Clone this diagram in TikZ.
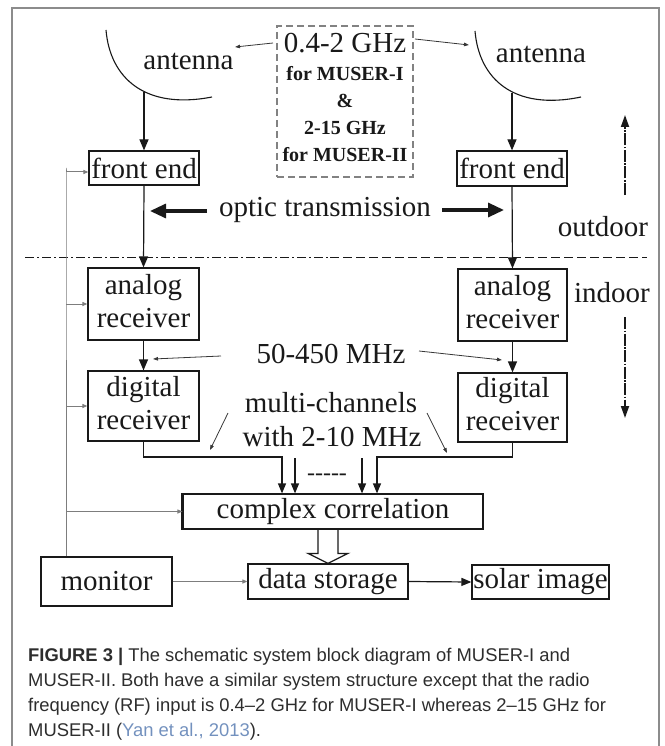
\documentclass[tikz,border=0pt]{standalone}
\usepackage{fontspec}
\setmainfont{Liberation Serif}
\newfontfamily\capfont{Liberation Sans}
\usetikzlibrary{arrows.meta,calc}
\definecolor{boxc}{RGB}{25,25,25}
\definecolor{framec}{RGB}{140,140,140}
\definecolor{ctlc}{RGB}{125,125,125}
\definecolor{annc}{RGB}{55,55,55}
\definecolor{dashc}{RGB}{130,130,130}
\definecolor{capc}{RGB}{45,45,45}
\definecolor{citec}{RGB}{115,145,190}
\newcommand\mydepth{\rule[-7pt]{0pt}{7pt}}
\begin{document}
\begin{tikzpicture}[x=1pt,y=-1pt,
  box/.style={draw=boxc,line width=1.2pt,inner sep=0pt,align=center,font=\fontsize{29}{33}\selectfont,text=boxc},
  lbl/.style={inner sep=0pt,anchor=base,font=\fontsize{29}{33}\selectfont,text=boxc},
  rf/.style={inner sep=0pt,anchor=base,font=\fontsize{20}{22}\selectfont\bfseries,text=boxc},
  sig/.style={line width=1.2pt,draw=boxc,-{Triangle[length=11pt,width=9pt]}},
  sigS/.style={line width=1.2pt,draw=boxc,-{Triangle[length=10pt,width=8pt]}},
  ann/.style={line width=0.8pt,draw=annc,-{Triangle[length=5pt,width=3.5pt]}},
  ctl/.style={line width=1pt,draw=ctlc},
  ctlA/.style={ctl,-{Triangle[length=5pt,width=4pt]}},
  optic/.style={line width=3.2pt,draw=boxc,-{Triangle[length=16pt,width=14pt]}},
  updown/.style={line width=1.8pt,draw=boxc,dash pattern=on 12pt off 1.5pt on 1.5pt off 1.5pt,-{Triangle[length=12pt,width=8pt]}},
  dish/.style={line width=1.1pt,draw=boxc},
  capline/.style={anchor=base west,inner sep=0pt,font=\capfont\fontsize{18.4}{20}\selectfont,text=capc}
]
\useasboundingbox (0,0) rectangle (664,746);
% frame
\draw[framec,line width=1.6pt] (12,746) -- (12,8) -- (659,8) -- (659,746);

% antennas
\draw[dish] (106,30) .. controls (110,78) and (145,110) .. (212,97);
\draw[dish] (475,31) .. controls (479,79) and (514,111) .. (581,97);
\node[lbl] (antL) at (188.5,70) {antenna};
\node[lbl] (antR) at (541,63) {antenna};
\coordinate (dishL) at (144,92);
\coordinate (dishR) at (512,93);

% RF box
\node[draw=dashc,line width=1.2pt,dash pattern=on 7pt off 4pt,minimum width=136pt,minimum height=151pt,inner sep=0pt] (rfbox) at (345,101.5) {};
\node[lbl] (rf1) at (345,53) {0.4-2 GHz};
\node[rf] (rf2) at (345,81) {for MUSER-I};
\node[rf] (rf3) at (345,108) {\&};
\node[rf] (rf4) at (345,135) {2-15 GHz};
\node[rf] (rf5) at (345,162) {for MUSER-II};
\coordinate (aL0) at (273,43); \coordinate (aL1) at (235,47);
\coordinate (aR0) at (415,39); \coordinate (aR1) at (469,45);
\draw[ann] (aL0) -- (aL1);
\draw[ann] (aR0) -- (aR1);

% boxes
\node[box,minimum width=110pt,minimum height=34pt] (fe1) at (144,168) {front end};
\node[box,minimum width=110pt,minimum height=35pt] (fe2) at (512,168.5) {front end};
\node[box,minimum width=111pt,minimum height=72pt] (ar1) at (143.5,304) {analog\\receiver\mydepth};
\node[box,minimum width=109pt,minimum height=72pt] (ar2) at (512.5,305) {analog\\receiver\mydepth};
\node[box,minimum width=111pt,minimum height=70pt] (dr1) at (143.5,406) {digital\\receiver\mydepth};
\node[box,minimum width=109pt,minimum height=69pt] (dr2) at (512.5,407.5) {digital\\receiver\mydepth};
\node[box,minimum width=300pt,minimum height=35pt] (corr) at (333,511.5) {complex correlation};
\draw[boxc,line width=2.6pt] (corr.north west) -- (corr.south west);
\node[box,minimum width=160pt,minimum height=35pt] (ds) at (328,581.5) {data storage};
\node[box,minimum width=137pt,minimum height=34pt] (si) at (540.5,582) {solar image};
\node[box,minimum width=131pt,minimum height=49pt] (mon) at (106.5,581.5) {monitor};

% signal chain
\draw[sig] (dishL) -- (fe1.north);
\draw[sig] (dishR) -- (fe2.north);
\draw[sig] (fe1.south) -- (ar1.north);
\draw[sig] (fe2.south) -- (ar2.north);
\draw[sig] (ar1.south) -- (dr1.north);
\draw[sig] (ar2.south) -- (dr2.north);

% optic transmission
\node[lbl] (optic) at (325,216) {optic transmission};
\coordinate (oL0) at (207,211); \coordinate (oL1) at (150,211);
\coordinate (oR0) at (442,210); \coordinate (oR1) at (504,210);
\draw[optic] (oL0) -- (oL1);
\draw[optic] (oR0) -- (oR1);

% outdoor / indoor
\coordinate (divL) at (25,257); \coordinate (divM) at (330,257); \coordinate (divR) at (647,257);
\draw[boxc,line width=1pt,dash pattern=on 9pt off 3pt on 2pt off 3pt] (divL) -- (divM);
\draw[boxc,line width=1pt,dash pattern=on 9pt off 4pt] (divM) -- (divR);
\node[lbl] (outdoor) at (603,236) {outdoor};
\node[lbl] (indoor) at (612,302) {indoor};
\coordinate (up0) at (625,195); \coordinate (up1) at (625,115);
\coordinate (dn0) at (625,317); \coordinate (dn1) at (625,418);
\draw[updown] (up0) -- (up1);
\draw[updown] (dn0) -- (dn1);

% 50-450 MHz
\node[lbl] (mhz) at (331,363) {50-450 MHz};
\coordinate (mL0) at (221,356); \coordinate (mL1) at (153,359);
\coordinate (mR0) at (419,351); \coordinate (mR1) at (502,360);
\draw[ann] (mL0) -- (mL1);
\draw[ann] (mR0) -- (mR1);

% multi-channels
\node[lbl] (multi1) at (331,412) {multi-channels};
\node[lbl] (multi2) at (332,446) {with 2-10 MHz};
\coordinate (cL0) at (228,413); \coordinate (cL1) at (210,450);
\coordinate (cR0) at (427,413); \coordinate (cR1) at (447,453);
\draw[ann] (cL0) -- (cL1);
\draw[ann] (cR0) -- (cR1);

% inputs to correlation
\coordinate (j1) at (282,457); \coordinate (j2) at (295,458);
\coordinate (j3) at (362,458); \coordinate (j4) at (377,457);
\draw[sigS] (dr1.south) |- (j1) -- (j1 |- corr.north);
\draw[sigS] (dr2.south) |- (j4) -- (j4 |- corr.north);
\draw[sigS] (j2) -- (j2 |- corr.north);
\draw[sigS] (j3) -- (j3 |- corr.north);
\node[inner sep=0pt,anchor=base,font=\fontsize{24}{26}\selectfont,text=boxc] (dots) at (327,480) {{-}{-}{-}{-}{-}};

% hollow arrow correlation -> data storage
\draw[boxc,line width=1.2pt,line join=miter]
  ([xshift=-10pt]ds.north |- corr.south) -- ([xshift=-10pt,yshift=10pt]ds.north)
  -- ([xshift=-20pt,yshift=10pt]ds.north) -- (ds.north)
  -- ([xshift=20pt,yshift=10pt]ds.north) -- ([xshift=10pt,yshift=10pt]ds.north)
  -- ([xshift=10pt]ds.north |- corr.south);

% data storage -> solar image
\draw[sigS] (ds.east) -- (si.west);

% monitor control lines
\coordinate (cx) at (66,0);
\draw[ctlA] (cx |- mon.north) -- (cx |- fe1.west) |- ([yshift=-4pt]fe1.west);
\draw[ctlA] (cx |- ar1.west) -- (ar1.west);
\draw[ctlA] (cx |- dr1.west) -- (dr1.west);
\draw[ctlA] (cx |- corr.west) -- (corr.west);
\draw[ctlA] (mon.east) -- (ds.west);

% caption
\node[capline] (cap1) at (28,661) {\textbf{FIGURE 3 |} The schematic system block diagram of MUSER-I and};
\node[capline] (cap2) at (28,686) {MUSER-II. Both have a similar system structure except that the radio};
\node[capline] (cap3) at (28,711) {frequency (RF) input is 0.4–2 GHz for MUSER-I whereas 2–15 GHz for};
\node[capline] (cap4) at (28,736) {MUSER-II ({\color{citec}Yan et al., 2013}).};
\end{tikzpicture}
\end{document}
